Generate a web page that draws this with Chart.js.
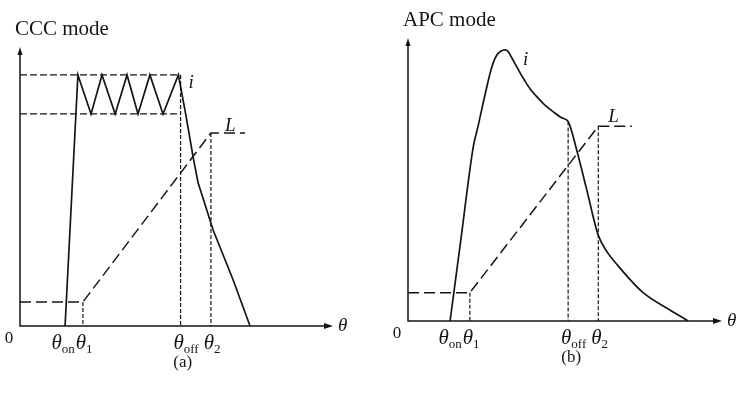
<!DOCTYPE html>
<html>
<head>
<meta charset="utf-8">
<script src="https://cdn.jsdelivr.net/npm/chart.js@4.4.1/dist/chart.umd.min.js"></script>
<style>
  html, body { margin: 0; padding: 0; background: #fff; }
  #wrap { position: relative; width: 747px; height: 394px; }
  canvas { position: absolute; top: 0; }
  #ccc { left: 0; }
  #apc { left: 373px; }
</style>
</head>
<body>
<div id="wrap">
  <canvas id="ccc" width="373" height="394"></canvas>
  <canvas id="apc" width="374" height="394"></canvas>
</div>
<script>
// subscripts of the θ marks under the axis
const tickNames = ['on', '1', 'off', '2'];

// (a) CCC mode
const cccTicks = [14.4, 20.1, 51.3, 61.0];
const cccCurrentX = [14.4, 18.5, 22.7, 26.2, 30.4, 34.2, 37.7, 41.5, 45.7, 50.6, 53.0, 55.3, 56.9, 61.7, 68.1, 73.5];
const cccCurrentY = [0, 90, 76, 90, 76, 90, 76, 90, 76, 90, 75.6, 60.6, 51.3, 34.4, 16.5, 0];
const cccBand = [76, 90];
const cccInductX = [0, 20.1, 61.0, 71.9];
const cccInductY = [8.6, 8.6, 69.2, 69.2];

// (b) APC mode
const apcTicks = [13.4, 19.7, 51.0, 60.6];
const apcCurrentX = [13.4, 16.9, 20.8, 22.4, 24.0, 25.1, 26.1, 27.2, 28.2, 29.5, 30.9, 31.9, 33.0, 34.4, 35.7, 37.3, 38.9, 41.0, 43.6, 46.3, 48.9, 51.0, 53.8, 56.9, 60.5, 63.3, 66.6, 74.8, 83.4, 89.2];
const apcCurrentY = [0, 29.3, 61.6, 69.2, 77.4, 82.7, 87.4, 91.4, 93.8, 95.3, 95.8, 95.2, 93.1, 90.3, 87.7, 84.7, 82.0, 79.3, 76.3, 73.9, 71.8, 70.5, 60.1, 46.5, 30.6, 24.6, 19.9, 10.1, 3.9, 0];
const apcInductX = [0, 19.7, 60.6, 71.3];
const apcInductY = [10, 10, 68.8, 68.8];

const ink = '#151515';
const serif = '"Liberation Serif", "Times New Roman", serif';

const pts = (xs, ys) => xs.map((x, k) => ({ x, y: ys[k] }));
const seg = (x0, y0, x1, y1) => [{ x: x0, y: y0 }, { x: x1, y: y1 }];
const line = (data, width, dash, extra) => Object.assign({
  data, borderColor: ink, borderWidth: width, borderDash: dash || [],
  pointRadius: 0, tension: 0, fill: false, clip: false
}, extra || {});

// axes with arrows, titles and the θ labels
const sketch = {
  id: 'sketch',
  beforeDatasetsDraw(chart) {
    const { ctx, chartArea: a } = chart;
    ctx.save();
    ctx.strokeStyle = ink;
    ctx.fillStyle = ink;
    ctx.lineWidth = 1.5;
    ctx.beginPath();
    ctx.moveTo(a.left, a.top + 4);
    ctx.lineTo(a.left, a.bottom);
    ctx.lineTo(a.right - 4, a.bottom);
    ctx.stroke();
    ctx.beginPath();
    ctx.moveTo(a.left, a.top);
    ctx.lineTo(a.left - 2.5, a.top + 8);
    ctx.lineTo(a.left + 2.5, a.top + 8);
    ctx.closePath();
    ctx.fill();
    ctx.beginPath();
    ctx.moveTo(a.right, a.bottom);
    ctx.lineTo(a.right - 9, a.bottom - 3);
    ctx.lineTo(a.right - 9, a.bottom + 3);
    ctx.closePath();
    ctx.fill();
    ctx.restore();
  },
  afterDatasetsDraw(chart, args, o) {
    const { ctx, chartArea: a, scales: { x, y } } = chart;
    ctx.save();
    ctx.fillStyle = ink;
    ctx.textBaseline = 'alphabetic';
    ctx.textAlign = 'left';
    ctx.font = `21px ${serif}`;
    ctx.fillText(o.title, a.left - 5, a.top - 12);

    ctx.textAlign = 'center';
    ctx.font = `17px ${serif}`;
    ctx.fillText('0', a.left - 11, a.bottom + 17);
    ctx.fillText(o.caption, a.left + 0.52 * (a.right - a.left), a.bottom + 41);

    ctx.textAlign = 'left';
    ctx.font = `italic 19px ${serif}`;
    ctx.fillText('θ', a.right + 5, a.bottom + 5);

    // θ marks, laid out right to left so crowded ones shift left
    const base = a.bottom + 23;
    let limit = Infinity;
    for (let k = o.ticks.length - 1; k >= 0; k--) {
      ctx.font = `italic 21px ${serif}`;
      const wt = ctx.measureText('θ').width;
      ctx.font = `13px ${serif}`;
      const ws = ctx.measureText(tickNames[k]).width;
      let left = x.getPixelForValue(o.ticks[k]) - wt / 2 - 2;
      left = Math.min(left, limit - wt - ws - 1);
      ctx.font = `italic 21px ${serif}`;
      ctx.fillText('θ', left, base);
      ctx.font = `13px ${serif}`;
      ctx.fillText(tickNames[k], left + wt, base + 4);
      limit = left;
    }

    ctx.font = `italic 19px ${serif}`;
    ctx.fillText('i', x.getPixelForValue(o.iAt.x) + o.iShift[0], y.getPixelForValue(o.iAt.y) + o.iShift[1]);
    ctx.fillText('L', x.getPixelForValue(o.lAt.x) + o.lShift[0], y.getPixelForValue(o.lAt.y) + o.lShift[1]);
    ctx.restore();
  }
};

function peakOf(xs, ys) {
  const k = ys.lastIndexOf(Math.max(...ys));
  return { x: xs[k], y: ys[k] };
}

function drawPanel(id, datasets, sketchOpts, padding) {
  return new Chart(document.getElementById(id), {
    type: 'line',
    data: { datasets },
    plugins: [sketch],
    options: {
      responsive: false,
      animation: false,
      events: [],
      layout: { padding },
      scales: {
        x: { type: 'linear', min: 0, max: 100, display: false },
        y: { min: 0, max: 100, display: false }
      },
      plugins: {
        legend: { display: false },
        tooltip: { enabled: false },
        sketch: sketchOpts
      }
    }
  });
}

drawPanel('ccc', [
  line(pts(cccCurrentX, cccCurrentY), 1.7),
  line(seg(0, cccBand[1], cccTicks[2], cccBand[1]), 1.3, [7, 3]),
  line(seg(0, cccBand[0], cccTicks[2], cccBand[0]), 1.3, [7, 3]),
  line(pts(cccInductX, cccInductY), 1.5, [11, 5]),
  line(seg(cccTicks[1], cccInductY[1], cccTicks[1], 0), 1.2, [4, 2]),
  line(seg(cccTicks[2], cccBand[1], cccTicks[2], 0), 1.2, [4, 2]),
  line(seg(cccTicks[3], cccInductY[2], cccTicks[3], 0), 1.2, [4, 2])
], {
  title: 'CCC mode', caption: '(a)', ticks: cccTicks,
  iAt: peakOf(cccCurrentX, cccCurrentY), iShift: [10, 13],
  lAt: { x: cccInductX[2], y: cccInductY[2] }, lShift: [14, -2]
}, { left: 20, right: 40, top: 47, bottom: 68 });

drawPanel('apc', [
  line(pts(apcCurrentX, apcCurrentY), 1.7, [], { cubicInterpolationMode: 'monotone' }),
  line(pts(apcInductX, apcInductY), 1.5, [11, 5]),
  line(seg(apcTicks[1], apcInductY[1], apcTicks[1], 0), 1.2, [4, 2]),
  line(seg(apcTicks[2], apcCurrentY[apcCurrentX.indexOf(apcTicks[2])], apcTicks[2], 0), 1.2, [4, 2]),
  line(seg(apcTicks[3], apcInductY[2], apcTicks[3], 0), 1.2, [4, 2])
], {
  title: 'APC mode', caption: '(b)', ticks: apcTicks,
  iAt: peakOf(apcCurrentX, apcCurrentY), iShift: [18, 15],
  lAt: { x: apcInductX[2], y: apcInductY[2] }, lShift: [10, -4]
}, { left: 35, right: 25, top: 38, bottom: 73 });
</script>
</body>
</html>
